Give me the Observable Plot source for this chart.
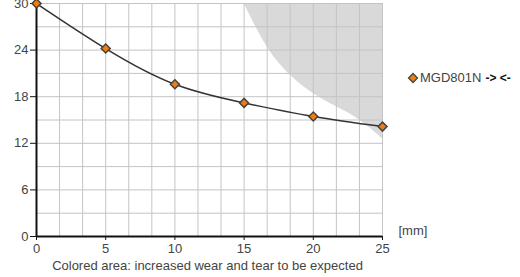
<!DOCTYPE html>
<html><head><meta charset="utf-8">
<script src="https://cdn.jsdelivr.net/npm/d3@7"></script>
<script src="https://cdn.jsdelivr.net/npm/@observablehq/plot@0.6"></script>
<style>
body{margin:0;background:#fff;font-family:"Liberation Sans",Arial,sans-serif;}
#wrap{position:relative;width:520px;height:277px;overflow:hidden;}
#legend{position:absolute;left:407px;top:70px;font-size:13px;color:#444;white-space:nowrap;display:flex;align-items:center;}
#legend b{font-weight:bold;color:#111;margin-left:4px;font-size:12px;}
</style>
</head><body><div id="wrap"></div>
<script>
const seriesName = "MGD801N";
const strokeX = [0, 5, 10, 15, 20, 25];
const forceY = [30, 24.2, 19.6, 17.2, 15.45, 14.15];
const zoneX = [15, 16.67, 18.33, 20, 21.67, 23.33, 25];
const zoneY = [30, 24.4, 20.8, 18.4, 16.7, 15, 12.6];
const xTicks = [0, 5, 10, 15, 20, 25];
const yTicks = [0, 6, 12, 18, 24, 30];
const xUnit = "[mm]";
const caption = "Colored area: increased wear and tear to be expected";

const series = strokeX.map((x, i) => ({x, y: forceY[i]}));
const zone = zoneX.map((x, i) => ({x, y: zoneY[i]}));

const chart = Plot.plot({
  width: 520, height: 277,
  marginLeft: 36, marginRight: 138, marginTop: 3, marginBottom: 41,
  style: {fontFamily: '"Liberation Sans", Arial, sans-serif', fontSize: "13px", color: "#444", background: "#fff"},
  x: {domain: [0, 25]},
  y: {domain: [0, 30]},
  marks: [
    Plot.areaY(zone, {x: "x", y1: "y", y2: 30, fill: "#d9d9d9", curve: "natural"}),
    Plot.gridX({ticks: d3.range(0, 25.01, 5/3), stroke: "#c4c4c4", strokeOpacity: 1}),
    Plot.gridY({ticks: d3.range(0, 30.01, 3), stroke: "#c4c4c4", strokeOpacity: 1}),
    Plot.axisX({ticks: xTicks, tickSize: 4, tickPadding: 3, fontSize: 13, stroke: "#111", fill: "#444", label: null}),
    Plot.axisY({ticks: yTicks, tickSize: 6, tickPadding: 2, fontSize: 13, stroke: "#111", fill: "#444", label: null}),
    Plot.ruleX([0], {stroke: "#111", strokeWidth: 2}),
    Plot.ruleY([0], {stroke: "#111", strokeWidth: 2}),
    Plot.line(series, {x: "x", y: "y", curve: "natural", stroke: "#333", strokeWidth: 1.5}),
    Plot.dot(series, {x: "x", y: "y", symbol: "square", rotate: 45, r: 3.6, fill: "#ee7d12", stroke: "#444", strokeWidth: 1.5}),
    Plot.text([xUnit], {frameAnchor: "bottom-right", dx: 16, dy: -2, textAnchor: "start", fill: "#444", fontSize: 13}),
    Plot.text([caption], {frameAnchor: "bottom", dx: -2, dy: 33, fill: "#444", fontSize: 13})
  ]
});
document.getElementById("wrap").appendChild(chart);

const leg = document.createElement("div");
leg.id = "legend";
leg.innerHTML = '<svg width="12" height="12" viewBox="-6 -6 12 12" style="margin-right:1px"><path d="M0,-4.5L4.5,0L0,4.5L-4.5,0Z" fill="#ee7d12" stroke="#444" stroke-width="1.3"/></svg>' +
  '<span></span><b>-&gt; &lt;-</b>';
leg.querySelector("span").textContent = seriesName;
document.getElementById("wrap").appendChild(leg);
</script>
</body></html>
